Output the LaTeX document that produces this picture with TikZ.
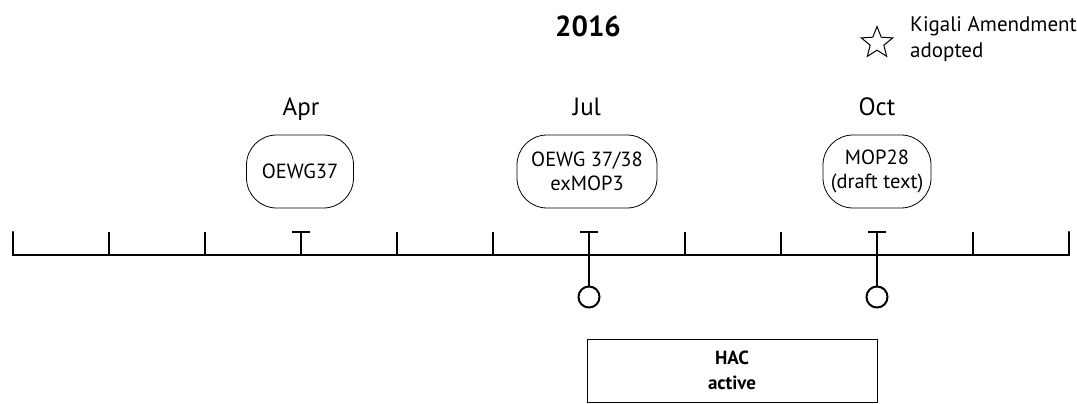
\documentclass[tikz,border=0pt]{standalone}
\usepackage{fontspec}
\setmainfont{PT Sans}
\usetikzlibrary{shapes.geometric}
\begin{document}
\begin{tikzpicture}[x=1pt,y=-1pt,
  axisline/.style={line width=2.4pt,line cap=round},
  ticksty/.style={line width=2pt},
  event/.style={draw,line width=0.8pt,rounded corners=30pt,minimum height=73pt,align=center,inner sep=2pt,font=\fontsize{20.5}{24}\selectfont},
  month/.style={anchor=base,font=\fontsize{25}{29}\selectfont},
  legendtxt/.style={anchor=base west,inner sep=0pt,font=\fontsize{21}{25}\selectfont},
  dot/.style={circle,draw,line width=2pt,minimum size=21pt,inner sep=0pt},
  hacbox/.style={draw,line width=0.8pt,minimum width=290pt,minimum height=63pt,align=center,font=\fontsize{19}{25}\selectfont\bfseries}]
\useasboundingbox (0,0) rectangle (1077,404);
% title
\node[anchor=base,font=\fontsize{29}{33}\selectfont\bfseries] (title) at (588,37) {2016};
% legend
\node[star,star points=5,star point ratio=2.3,draw,line width=1pt,minimum size=33pt,inner sep=0pt] (star) at (877,43) {};
\node[legendtxt] (kig1) at (910,32) {Kigali Amendment};
\node[legendtxt] (kig2) at (910,58) {adopted};
% axis
\draw[axisline] (13,232) -- (13,255) -- (1069,255) -- (1069,232);
\foreach \k in {1,2,4,5,7,8,10} \draw[ticksty] (13+96*\k,255) -- (13+96*\k,232);
% T ticks
\foreach \x/\n in {301/a,589/b,877/c}{
  \coordinate (top\n) at (\x,232);
  \draw[ticksty] (\x-9,232) -- (\x+9,232);
}
\draw[ticksty] (topa) -- (301,255);
% months
\node[month] (apr) at (301,115) {Apr};
\node[month] (jul) at (587,115) {Jul};
\node[month] (oct) at (877,115) {Oct};
% events
\node[event,minimum width=107pt] (e1) at (300,171.5) {OEWG37};
\node[event,minimum width=140pt] (e2) at (587,171.5) {OEWG 37/38\\exMOP3};
\node[event,minimum width=108pt] (e3) at (877,171.5) {MOP28\\(draft text)};
% dots
\node[dot] (d1) at (589,297) {};
\node[dot] (d2) at (877,297) {};
\draw[ticksty] (topb) -- (d1);
\draw[ticksty] (topc) -- (d2);
% HAC
\node[hacbox] (hac) at (732,370.5) {HAC\\active};
\end{tikzpicture}
\end{document}
